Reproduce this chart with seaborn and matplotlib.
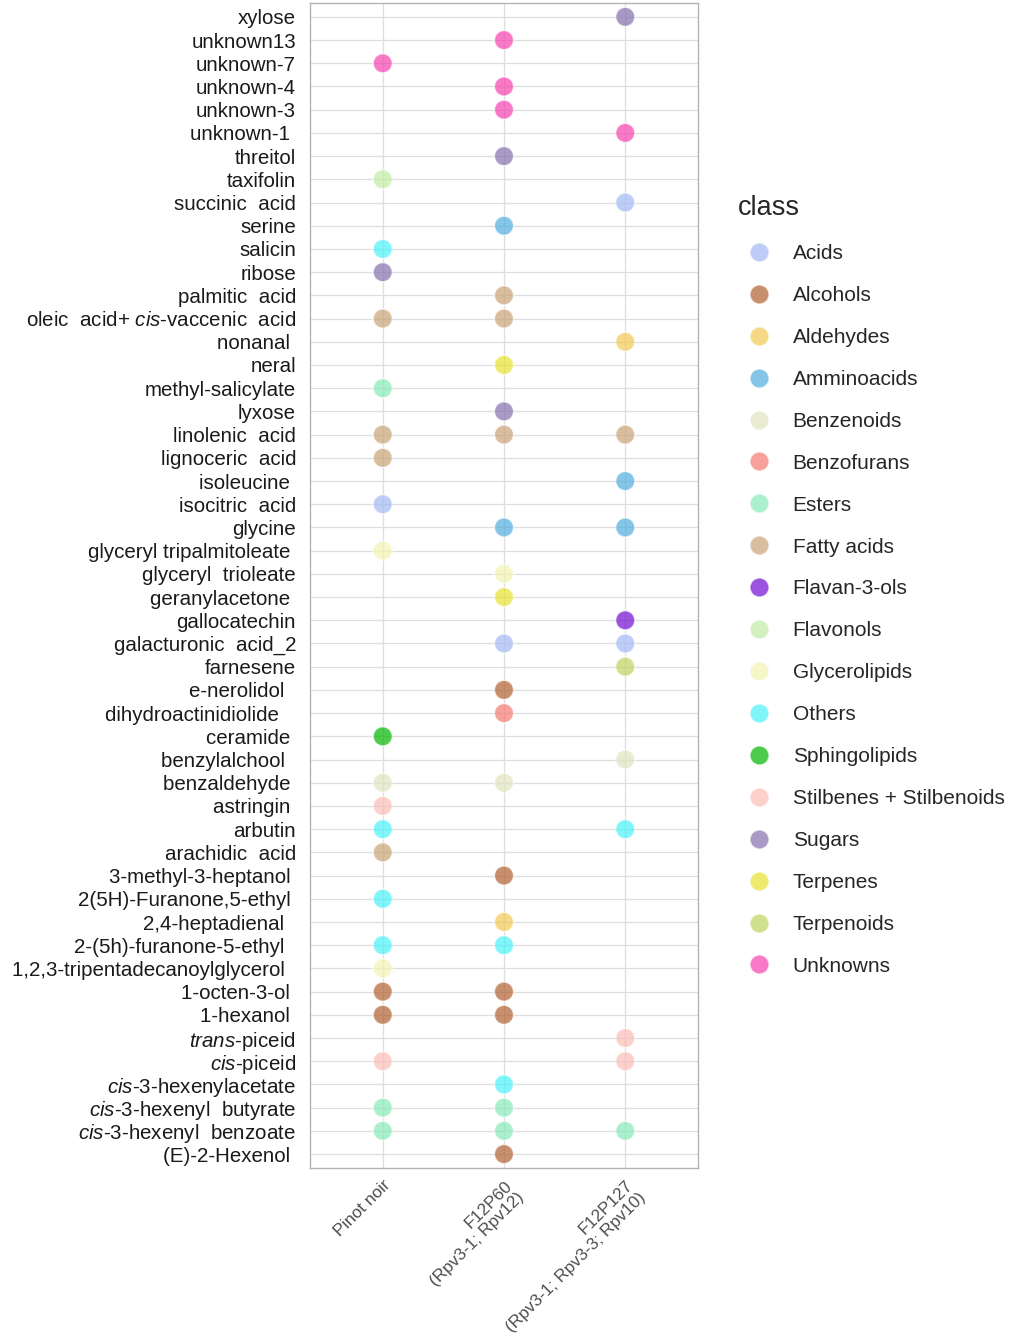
import pandas as pd
import matplotlib
matplotlib.use("Agg")
import matplotlib.pyplot as plt
import seaborn as sns

# compounds, top to bottom as in the figure
compounds = [
    "xylose", "unknown13", "unknown-7", "unknown-4", "unknown-3", "unknown-1 ",
    "threitol", "taxifolin", "succinic  acid", "serine", "salicin", "ribose",
    "palmitic  acid", r"oleic  acid+ $\mathit{cis}$-vaccenic  acid", "nonanal ",
    "neral", "methyl-salicylate", "lyxose", "linolenic  acid", "lignoceric  acid",
    "isoleucine ", "isocitric  acid", "glycine", "glyceryl tripalmitoleate ",
    "glyceryl  trioleate", "geranylacetone ", "gallocatechin", "galacturonic  acid_2",
    "farnesene", "e-nerolidol  ", "dihydroactinidiolide   ", "ceramide ",
    "benzylalchool  ", "benzaldehyde ", "astringin ", "arbutin", "arachidic  acid",
    "3-methyl-3-heptanol ", "2(5H)-Furanone,5-ethyl ", "2,4-heptadienal  ",
    "2-(5h)-furanone-5-ethyl  ", "1,2,3-tripentadecanoylglycerol  ",
    "1-octen-3-ol ", "1-hexanol ", r"$\mathit{trans}$-piceid", r"$\mathit{cis}$-piceid",
    r"$\mathit{cis}$-3-hexenylacetate", r"$\mathit{cis}$-3-hexenyl  butyrate",
    r"$\mathit{cis}$-3-hexenyl  benzoate", "(E)-2-Hexenol ",
]

compound_class = [
    "Sugars", "Unknowns", "Unknowns", "Unknowns", "Unknowns", "Unknowns",
    "Sugars", "Flavonols", "Acids", "Amminoacids", "Others", "Sugars",
    "Fatty acids", "Fatty acids", "Aldehydes",
    "Terpenes", "Esters", "Sugars", "Fatty acids", "Fatty acids",
    "Amminoacids", "Acids", "Amminoacids", "Glycerolipids",
    "Glycerolipids", "Terpenes", "Flavan-3-ols", "Acids",
    "Terpenoids", "Alcohols", "Benzofurans", "Sphingolipids",
    "Benzenoids", "Benzenoids", "Stilbenes + Stilbenoids", "Others", "Fatty acids",
    "Alcohols", "Others", "Aldehydes",
    "Others", "Glycerolipids",
    "Alcohols", "Alcohols", "Stilbenes + Stilbenoids", "Stilbenes + Stilbenoids",
    "Others", "Esters",
    "Esters", "Alcohols",
]

samples = ["Pinot noir", "F12P60\n(Rpv3-1; Rpv12)", "F12P127\n(Rpv3-1; Rpv3-3; Rpv10)"]

# presence (1) per compound in each genotype
pinot_noir = [0, 0, 1, 0, 0, 0, 0, 1, 0, 0, 1, 1, 0, 1, 0, 0, 1, 0, 1, 1, 0, 1, 0, 1, 0,
              0, 0, 0, 0, 0, 0, 1, 0, 1, 1, 1, 1, 0, 1, 0, 1, 1, 1, 1, 0, 1, 0, 1, 1, 0]
f12p60 = [0, 1, 0, 1, 1, 0, 1, 0, 0, 1, 0, 0, 1, 1, 0, 1, 0, 1, 1, 0, 0, 0, 1, 0, 1,
          1, 0, 1, 0, 1, 1, 0, 0, 1, 0, 0, 0, 1, 0, 1, 1, 0, 1, 1, 0, 0, 1, 1, 1, 1]
f12p127 = [1, 0, 0, 0, 0, 1, 0, 0, 1, 0, 0, 0, 0, 0, 1, 0, 0, 0, 1, 0, 1, 0, 1, 0, 0,
           0, 1, 1, 1, 0, 0, 0, 1, 0, 0, 1, 0, 0, 0, 0, 0, 0, 0, 0, 1, 1, 0, 0, 1, 0]

classes = ["Acids", "Alcohols", "Aldehydes", "Amminoacids", "Benzenoids", "Benzofurans",
           "Esters", "Fatty acids", "Flavan-3-ols", "Flavonols", "Glycerolipids", "Others",
           "Sphingolipids", "Stilbenes + Stilbenoids", "Sugars", "Terpenes", "Terpenoids",
           "Unknowns"]
class_colors = ["#a2b9f4", "#b06030", "#f2c955", "#51aedf", "#e0e4bf", "#f4796f",
                "#86eab8", "#c8a376", "#700cd3", "#c0eca4", "#f1f4b2", "#4af1f8",
                "#00b500", "#fbbcb6", "#8370ac", "#e7e230", "#bcd35b", "#f642b0"]

# long table
rows = []
for s_idx, pres in enumerate([pinot_noir, f12p60, f12p127]):
    for c_idx, p in enumerate(pres):
        if p:
            rows.append({"sample": s_idx, "compound": c_idx, "class": compound_class[c_idx]})
df = pd.DataFrame(rows)

sns.set_style("white")
plt.rcParams["font.family"] = ["Liberation Sans", "DejaVu Sans"]
plt.rcParams["mathtext.fontset"] = "custom"
plt.rcParams["mathtext.rm"] = "Liberation Sans"
plt.rcParams["mathtext.it"] = "Liberation Sans:italic"

fig = plt.figure(figsize=(10.1, 13.39), dpi=100)
ax = fig.add_axes([0.3069, 0.1277, 0.3842, 0.8701])

sns.scatterplot(data=df, x="sample", y="compound", hue="class", hue_order=classes,
                palette=dict(zip(classes, class_colors)), s=190, alpha=0.7,
                linewidth=1.0, ax=ax, zorder=3)

ax.set_xlim(-0.6, 2.6)
ax.set_ylim(len(compounds) - 0.4, -0.6)
ax.set_yticks(range(len(compounds)))
ax.set_yticklabels(compounds, fontsize=14.8, color="#1a1a1a")
ax.set_xticks(range(len(samples)))
ax.set_xticklabels(samples, fontsize=12.3, color="#4d4d4d", rotation=45,
                   ha="right", va="top", rotation_mode="anchor")
ax.set_xlabel("")
ax.set_ylabel("")
ax.grid(True, color="#dedede", linewidth=0.9, zorder=0)
ax.set_axisbelow(True)
for sp in ax.spines.values():
    sp.set_color("#b3b3b3")
    sp.set_linewidth(1.0)
ax.tick_params(axis="both", length=4, width=0.9, color="#b3b3b3")
ax.tick_params(axis="y", pad=6)
ax.tick_params(axis="x", pad=3)

sns.move_legend(ax, loc="center left", bbox_to_anchor=(1.055, 0.5), frameon=False,
                title="class", fontsize=15, title_fontsize=19.5, labelspacing=1.1,
                handletextpad=0.62, markerscale=1.0, alignment="left")
leg = ax.get_legend()
for h in leg.legend_handles:
    h.set_alpha(0.7)

fig.savefig("out.png", dpi=100)
